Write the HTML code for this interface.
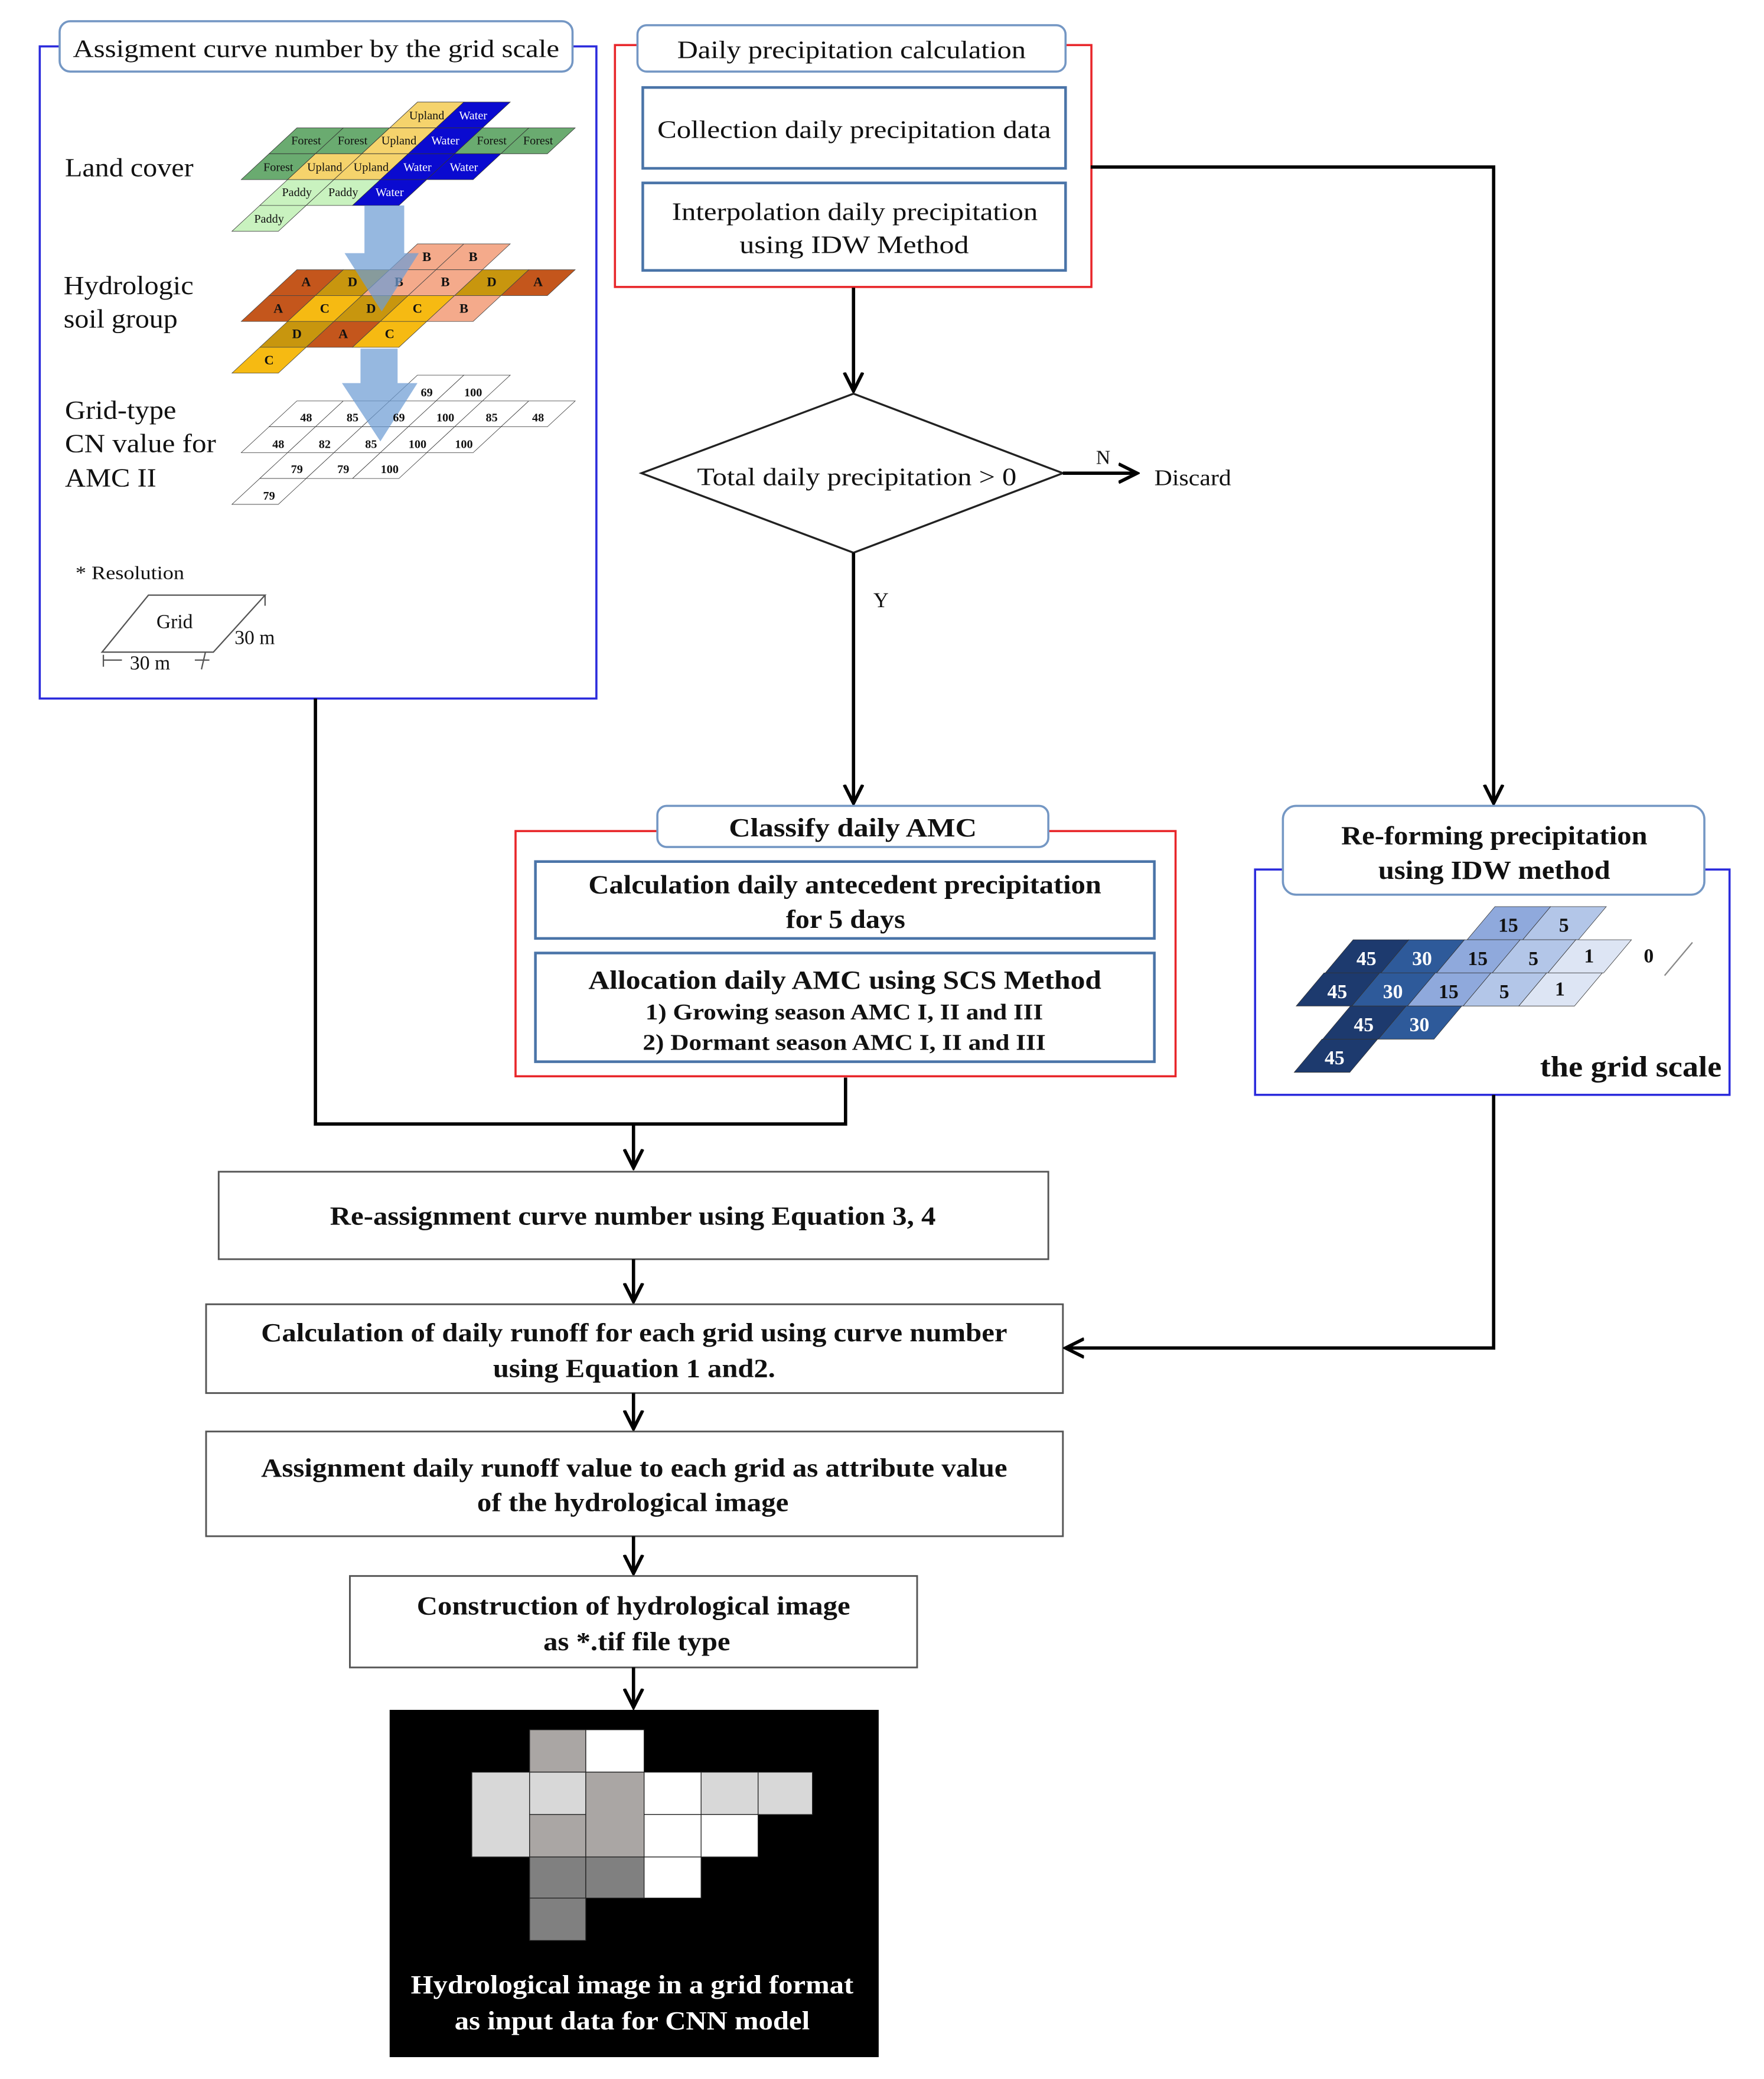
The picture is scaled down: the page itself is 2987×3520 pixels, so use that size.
<!DOCTYPE html>
<html><head><meta charset="utf-8"><style>
html,body{margin:0;padding:0;background:#fff;}
svg{display:block;}
text{font-family:"Liberation Serif",serif;fill:#111;}
.b{font-weight:bold;}
.c{text-anchor:middle;}
</style></head><body>
<svg width="2987" height="3520" viewBox="0 0 1331 1568.5" xmlns="http://www.w3.org/2000/svg">
<defs>
<marker id="ah" markerUnits="userSpaceOnUse" markerWidth="16" markerHeight="16" viewBox="0 0 16 16" refX="14" refY="8" orient="auto">
<path d="M0,1 L14,8 L0,15" fill="none" stroke="#000" stroke-width="2.5"/>
</marker>
</defs>
<rect width="1331" height="1568.5" fill="#fff"/>

<!-- ===== Left panel ===== -->
<rect x="30" y="35" width="420" height="492" fill="none" stroke="#2b2bdc" stroke-width="1.6"/>
<rect x="45" y="16" width="387" height="38" rx="8" fill="#fff" stroke="#7497c4" stroke-width="1.6"/>
<text x="55" y="43" font-size="19" textLength="367" lengthAdjust="spacingAndGlyphs">Assigment curve number by the grid scale</text>

<text x="49" y="133" font-size="20" textLength="97" lengthAdjust="spacingAndGlyphs">Land cover</text>
<text x="48" y="222" font-size="20" textLength="98" lengthAdjust="spacingAndGlyphs">Hydrologic</text>
<text x="48" y="247" font-size="20" textLength="86" lengthAdjust="spacingAndGlyphs">soil group</text>
<text x="49" y="316" font-size="20" textLength="84" lengthAdjust="spacingAndGlyphs">Grid-type</text>
<text x="49" y="341" font-size="20" textLength="114" lengthAdjust="spacingAndGlyphs">CN value for</text>
<text x="49" y="367" font-size="20" textLength="69" lengthAdjust="spacingAndGlyphs">AMC II</text>

<!-- land cover -->
<g transform="matrix(35,0,-21,19.5,245,77)" stroke="#333" stroke-width="0.8">
<g vector-effect="non-scaling-stroke">
<rect x="2" y="0" width="1" height="1" fill="#f5d36c" vector-effect="non-scaling-stroke"/>
<rect x="3" y="0" width="1" height="1" fill="#0a0ad0" vector-effect="non-scaling-stroke"/>
<rect x="0" y="1" width="1" height="1" fill="#6aab70" vector-effect="non-scaling-stroke"/>
<rect x="1" y="1" width="1" height="1" fill="#6aab70" vector-effect="non-scaling-stroke"/>
<rect x="2" y="1" width="1" height="1" fill="#f5d36c" vector-effect="non-scaling-stroke"/>
<rect x="3" y="1" width="1" height="1" fill="#0a0ad0" vector-effect="non-scaling-stroke"/>
<rect x="4" y="1" width="1" height="1" fill="#6aab70" vector-effect="non-scaling-stroke"/>
<rect x="5" y="1" width="1" height="1" fill="#6aab70" vector-effect="non-scaling-stroke"/>
<rect x="0" y="2" width="1" height="1" fill="#6aab70" vector-effect="non-scaling-stroke"/>
<rect x="1" y="2" width="1" height="1" fill="#f5d36c" vector-effect="non-scaling-stroke"/>
<rect x="2" y="2" width="1" height="1" fill="#f5d36c" vector-effect="non-scaling-stroke"/>
<rect x="3" y="2" width="1" height="1" fill="#0a0ad0" vector-effect="non-scaling-stroke"/>
<rect x="4" y="2" width="1" height="1" fill="#0a0ad0" vector-effect="non-scaling-stroke"/>
<rect x="1" y="3" width="1" height="1" fill="#c9f2bf" vector-effect="non-scaling-stroke"/>
<rect x="2" y="3" width="1" height="1" fill="#c9f2bf" vector-effect="non-scaling-stroke"/>
<rect x="3" y="3" width="1" height="1" fill="#0a0ad0" vector-effect="non-scaling-stroke"/>
<rect x="1" y="4" width="1" height="1" fill="#c9f2bf" vector-effect="non-scaling-stroke"/>
</g></g>
<g font-size="9" class="c">
<text x="322" y="90" text-anchor="middle">Upland</text><text x="357" y="90" text-anchor="middle" style="fill:#fff">Water</text>
<text x="231" y="109" text-anchor="middle">Forest</text><text x="266" y="109" text-anchor="middle">Forest</text><text x="301" y="109" text-anchor="middle">Upland</text><text x="336" y="109" text-anchor="middle" style="fill:#fff">Water</text><text x="371" y="109" text-anchor="middle">Forest</text><text x="406" y="109" text-anchor="middle">Forest</text>
<text x="210" y="129" text-anchor="middle">Forest</text><text x="245" y="129" text-anchor="middle">Upland</text><text x="280" y="129" text-anchor="middle">Upland</text><text x="315" y="129" text-anchor="middle" style="fill:#fff">Water</text><text x="350" y="129" text-anchor="middle" style="fill:#fff">Water</text>
<text x="224" y="148" text-anchor="middle">Paddy</text><text x="259" y="148" text-anchor="middle">Paddy</text><text x="294" y="148" text-anchor="middle" style="fill:#fff">Water</text>
<text x="203" y="168" text-anchor="middle">Paddy</text>
</g>

<!-- soil group -->
<g transform="matrix(35,0,-21,19.5,245,184)">
<rect x="2" y="0" width="1" height="1" fill="#f4aa8b" stroke="#444" stroke-width="0.8" vector-effect="non-scaling-stroke"/>
<rect x="3" y="0" width="1" height="1" fill="#f4aa8b" stroke="#444" stroke-width="0.8" vector-effect="non-scaling-stroke"/>
<rect x="0" y="1" width="1" height="1" fill="#c4561c" stroke="#444" stroke-width="0.8" vector-effect="non-scaling-stroke"/>
<rect x="1" y="1" width="1" height="1" fill="#c8960e" stroke="#444" stroke-width="0.8" vector-effect="non-scaling-stroke"/>
<rect x="2" y="1" width="1" height="1" fill="#f4aa8b" stroke="#444" stroke-width="0.8" vector-effect="non-scaling-stroke"/>
<rect x="3" y="1" width="1" height="1" fill="#f4aa8b" stroke="#444" stroke-width="0.8" vector-effect="non-scaling-stroke"/>
<rect x="4" y="1" width="1" height="1" fill="#c8960e" stroke="#444" stroke-width="0.8" vector-effect="non-scaling-stroke"/>
<rect x="5" y="1" width="1" height="1" fill="#c4561c" stroke="#444" stroke-width="0.8" vector-effect="non-scaling-stroke"/>
<rect x="0" y="2" width="1" height="1" fill="#c4561c" stroke="#444" stroke-width="0.8" vector-effect="non-scaling-stroke"/>
<rect x="1" y="2" width="1" height="1" fill="#f6ba12" stroke="#444" stroke-width="0.8" vector-effect="non-scaling-stroke"/>
<rect x="2" y="2" width="1" height="1" fill="#c8960e" stroke="#444" stroke-width="0.8" vector-effect="non-scaling-stroke"/>
<rect x="3" y="2" width="1" height="1" fill="#f6ba12" stroke="#444" stroke-width="0.8" vector-effect="non-scaling-stroke"/>
<rect x="4" y="2" width="1" height="1" fill="#f4aa8b" stroke="#444" stroke-width="0.8" vector-effect="non-scaling-stroke"/>
<rect x="1" y="3" width="1" height="1" fill="#c8960e" stroke="#444" stroke-width="0.8" vector-effect="non-scaling-stroke"/>
<rect x="2" y="3" width="1" height="1" fill="#c4561c" stroke="#444" stroke-width="0.8" vector-effect="non-scaling-stroke"/>
<rect x="3" y="3" width="1" height="1" fill="#f6ba12" stroke="#444" stroke-width="0.8" vector-effect="non-scaling-stroke"/>
<rect x="1" y="4" width="1" height="1" fill="#f6ba12" stroke="#444" stroke-width="0.8" vector-effect="non-scaling-stroke"/>
</g>
<g font-size="10" font-weight="bold" text-anchor="middle">
<text x="322" y="197">B</text><text x="357" y="197">B</text>
<text x="231" y="216">A</text><text x="266" y="216">D</text><text x="301" y="216">B</text><text x="336" y="216">B</text><text x="371" y="216">D</text><text x="406" y="216">A</text>
<text x="210" y="236">A</text><text x="245" y="236">C</text><text x="280" y="236">D</text><text x="315" y="236">C</text><text x="350" y="236">B</text>
<text x="224" y="255">D</text><text x="259" y="255">A</text><text x="294" y="255">C</text>
<text x="203" y="275">C</text>
</g>

<!-- CN grid -->
<g transform="matrix(35,0,-21,19.5,245,283)" fill="#fff" stroke="#333" stroke-width="0.8">
<rect x="2" y="0" width="1" height="1" vector-effect="non-scaling-stroke"/>
<rect x="3" y="0" width="1" height="1" vector-effect="non-scaling-stroke"/>
<rect x="0" y="1" width="1" height="1" vector-effect="non-scaling-stroke"/>
<rect x="1" y="1" width="1" height="1" vector-effect="non-scaling-stroke"/>
<rect x="2" y="1" width="1" height="1" vector-effect="non-scaling-stroke"/>
<rect x="3" y="1" width="1" height="1" vector-effect="non-scaling-stroke"/>
<rect x="4" y="1" width="1" height="1" vector-effect="non-scaling-stroke"/>
<rect x="5" y="1" width="1" height="1" vector-effect="non-scaling-stroke"/>
<rect x="0" y="2" width="1" height="1" vector-effect="non-scaling-stroke"/>
<rect x="1" y="2" width="1" height="1" vector-effect="non-scaling-stroke"/>
<rect x="2" y="2" width="1" height="1" vector-effect="non-scaling-stroke"/>
<rect x="3" y="2" width="1" height="1" vector-effect="non-scaling-stroke"/>
<rect x="4" y="2" width="1" height="1" vector-effect="non-scaling-stroke"/>
<rect x="1" y="3" width="1" height="1" vector-effect="non-scaling-stroke"/>
<rect x="2" y="3" width="1" height="1" vector-effect="non-scaling-stroke"/>
<rect x="3" y="3" width="1" height="1" vector-effect="non-scaling-stroke"/>
<rect x="1" y="4" width="1" height="1" vector-effect="non-scaling-stroke"/>
</g>

<!-- translucent arrows -->
<g fill="#6d9cd4" fill-opacity="0.72">
<polygon points="275,155 305,155 305,191 316,191 288,235 260,191 275,191"/>
<polygon points="272,263 300,263 300,289 315,289 287,333 258,289 272,289"/>
</g>
<g font-size="9" font-weight="bold" text-anchor="middle">
<text x="322" y="299">69</text><text x="357" y="299">100</text>
<text x="231" y="318">48</text><text x="266" y="318">85</text><text x="301" y="318">69</text><text x="336" y="318">100</text><text x="371" y="318">85</text><text x="406" y="318">48</text>
<text x="210" y="338">48</text><text x="245" y="338">82</text><text x="280" y="338">85</text><text x="315" y="338">100</text><text x="350" y="338">100</text>
<text x="224" y="357">79</text><text x="259" y="357">79</text><text x="294" y="357">100</text>
<text x="203" y="377">79</text>
</g>

<!-- resolution -->
<text x="57" y="437" font-size="14" textLength="82" lengthAdjust="spacingAndGlyphs">* Resolution</text>
<path d="M77,492 L112,449 L200,449 L161,492 Z" fill="none" stroke="#555" stroke-width="1"/>
<line x1="200" y1="449" x2="200" y2="457" stroke="#555" stroke-width="1"/>
<text x="118" y="474" font-size="15">Grid</text>
<text x="177" y="486" font-size="15">30 m</text>
<line x1="78" y1="494" x2="78" y2="503" stroke="#555"/><line x1="78" y1="498" x2="92" y2="498" stroke="#555"/>
<line x1="147" y1="498" x2="158" y2="498" stroke="#555"/><line x1="155" y1="492" x2="152" y2="505" stroke="#555"/>
<text x="98" y="505" font-size="15">30 m</text>

<!-- ===== Top red panel ===== -->
<rect x="464" y="34" width="359.5" height="182.5" fill="none" stroke="#e8262a" stroke-width="1.6"/>
<rect x="481" y="19" width="323" height="35" rx="7" fill="#fff" stroke="#7497c4" stroke-width="1.6"/>
<text x="511" y="44" font-size="19" textLength="263" lengthAdjust="spacingAndGlyphs">Daily precipitation calculation</text>
<rect x="485" y="66" width="319" height="61" fill="#fff" stroke="#4a74a8" stroke-width="2"/>
<text x="496" y="104" font-size="19" textLength="297" lengthAdjust="spacingAndGlyphs">Collection daily precipitation data</text>
<rect x="485" y="138" width="319" height="66" fill="#fff" stroke="#4a74a8" stroke-width="2"/>
<text x="507" y="166" font-size="19" textLength="276" lengthAdjust="spacingAndGlyphs">Interpolation daily precipitation</text>
<text x="558" y="191" font-size="19" textLength="173" lengthAdjust="spacingAndGlyphs">using  IDW Method</text>

<!-- connectors top -->
<line x1="644" y1="217" x2="644" y2="295" stroke="#000" stroke-width="2.5" marker-end="url(#ah)"/>
<polygon points="644,297 802,357 644,417 484,357" fill="#fff" stroke="#222" stroke-width="1.5"/>
<text x="526" y="366" font-size="19" textLength="241" lengthAdjust="spacingAndGlyphs">Total daily precipitation &gt; 0</text>
<line x1="802" y1="357" x2="858" y2="357" stroke="#000" stroke-width="2.5" marker-end="url(#ah)"/>
<text x="827" y="350" font-size="15">N</text>
<text x="871" y="366" font-size="17" textLength="58" lengthAdjust="spacingAndGlyphs">Discard</text>
<line x1="644" y1="417" x2="644" y2="606" stroke="#000" stroke-width="2.5" marker-end="url(#ah)"/>
<text x="659" y="458" font-size="16">Y</text>
<polyline points="823,126 1127,126 1127,606" fill="none" stroke="#000" stroke-width="2.5" marker-end="url(#ah)"/>

<!-- ===== AMC red panel ===== -->
<rect x="389" y="627" width="498" height="185" fill="none" stroke="#e8262a" stroke-width="1.6"/>
<rect x="496" y="608" width="295" height="31" rx="7" fill="#fff" stroke="#7497c4" stroke-width="1.6"/>
<text x="550" y="631" font-size="20" font-weight="bold" textLength="187" lengthAdjust="spacingAndGlyphs">Classify  daily AMC</text>
<rect x="404" y="650" width="467" height="58" fill="#fff" stroke="#4a74a8" stroke-width="2"/>
<text x="444" y="674" font-size="20" font-weight="bold" textLength="387" lengthAdjust="spacingAndGlyphs">Calculation daily antecedent precipitation</text>
<text x="593" y="700" font-size="20" font-weight="bold" textLength="90" lengthAdjust="spacingAndGlyphs">for 5 days</text>
<rect x="404" y="719" width="467" height="82" fill="#fff" stroke="#4a74a8" stroke-width="2"/>
<text x="444" y="746" font-size="20" font-weight="bold" textLength="387" lengthAdjust="spacingAndGlyphs">Allocation daily AMC  using SCS Method</text>
<text x="487" y="769" font-size="17" font-weight="bold" textLength="300" lengthAdjust="spacingAndGlyphs">1)  Growing season AMC I, II and III</text>
<text x="485" y="792" font-size="17" font-weight="bold" textLength="304" lengthAdjust="spacingAndGlyphs">2)  Dormant season AMC I, II and III</text>

<!-- ===== Right blue panel ===== -->
<rect x="947" y="656" width="358" height="170" fill="none" stroke="#2b2bdc" stroke-width="1.6"/>
<rect x="968" y="608" width="318" height="67" rx="10" fill="#fff" stroke="#7497c4" stroke-width="1.6"/>
<text x="1012" y="637" font-size="20" font-weight="bold" textLength="231" lengthAdjust="spacingAndGlyphs">Re-forming precipitation</text>
<text x="1040" y="663" font-size="20" font-weight="bold" textLength="175" lengthAdjust="spacingAndGlyphs">using IDW method</text>
<g stroke="#333" stroke-width="0.8">
<g transform="matrix(42,0,-21,25,1128,684)">
<rect x="0" y="0" width="1" height="1" fill="#8fa9dc" vector-effect="non-scaling-stroke"/>
<rect x="1" y="0" width="1" height="1" fill="#b3c6e8" vector-effect="non-scaling-stroke"/>
</g>
<g transform="matrix(42,0,-21,25,1021,709)">
<rect x="0" y="0" width="1" height="1" fill="#1d3a6e" vector-effect="non-scaling-stroke"/>
<rect x="1" y="0" width="1" height="1" fill="#2e5a9a" vector-effect="non-scaling-stroke"/>
<rect x="2" y="0" width="1" height="1" fill="#8fa9dc" vector-effect="non-scaling-stroke"/>
<rect x="3" y="0" width="1" height="1" fill="#b3c6e8" vector-effect="non-scaling-stroke"/>
<rect x="4" y="0" width="1" height="1" fill="#dde5f4" vector-effect="non-scaling-stroke"/>
</g>
<g transform="matrix(42,0,-21,25,999,734)">
<rect x="0" y="0" width="1" height="1" fill="#1d3a6e" vector-effect="non-scaling-stroke"/>
<rect x="1" y="0" width="1" height="1" fill="#2e5a9a" vector-effect="non-scaling-stroke"/>
<rect x="2" y="0" width="1" height="1" fill="#8fa9dc" vector-effect="non-scaling-stroke"/>
<rect x="3" y="0" width="1" height="1" fill="#b3c6e8" vector-effect="non-scaling-stroke"/>
<rect x="4" y="0" width="1" height="1" fill="#dde5f4" vector-effect="non-scaling-stroke"/>
</g>
<g transform="matrix(42,0,-21,25,1019,759)">
<rect x="0" y="0" width="1" height="1" fill="#1d3a6e" vector-effect="non-scaling-stroke"/>
<rect x="1" y="0" width="1" height="1" fill="#2e5a9a" vector-effect="non-scaling-stroke"/>
</g>
<g transform="matrix(42,0,-21,25,997.5,784)">
<rect x="0" y="0" width="1" height="1" fill="#1d3a6e" vector-effect="non-scaling-stroke"/>
</g>
</g>
<g font-size="15" font-weight="bold" text-anchor="middle">
<text x="1138" y="703">15</text><text x="1180" y="703">5</text>
<text x="1031" y="728" style="fill:#fff">45</text><text x="1073" y="728" style="fill:#fff">30</text><text x="1115" y="728">15</text><text x="1157" y="728">5</text><text x="1199" y="726">1</text>
<text x="1009" y="753" style="fill:#fff">45</text><text x="1051" y="753" style="fill:#fff">30</text><text x="1093" y="753">15</text><text x="1135" y="753">5</text><text x="1177" y="751">1</text>
<text x="1029" y="778" style="fill:#fff">45</text><text x="1071" y="778" style="fill:#fff">30</text>
<text x="1007" y="803" style="fill:#fff">45</text>
<text x="1244" y="726">0</text>
</g>
<line x1="1256" y1="736" x2="1277" y2="711" stroke="#888" stroke-width="1"/>
<text x="1162" y="812" font-size="22" font-weight="bold" textLength="137" lengthAdjust="spacingAndGlyphs">the grid scale</text>

<!-- ===== lower flow ===== -->
<polyline points="238,527 238,848 638,848 638,813" fill="none" stroke="#000" stroke-width="2.5"/>
<line x1="478" y1="848" x2="478" y2="881" stroke="#000" stroke-width="2.5" marker-end="url(#ah)"/>
<rect x="165" y="884" width="626" height="66" fill="#fff" stroke="#555" stroke-width="1.3"/>
<text x="249" y="924" font-size="20" font-weight="bold" textLength="457" lengthAdjust="spacingAndGlyphs">Re-assignment curve number using Equation 3, 4</text>
<line x1="478" y1="950" x2="478" y2="982" stroke="#000" stroke-width="2.5" marker-end="url(#ah)"/>
<rect x="155.5" y="984" width="646.5" height="67" fill="#fff" stroke="#555" stroke-width="1.3"/>
<text x="197" y="1012" font-size="20" font-weight="bold" textLength="563" lengthAdjust="spacingAndGlyphs">Calculation of daily runoff for each grid using curve number</text>
<text x="372" y="1039" font-size="20" font-weight="bold" textLength="213" lengthAdjust="spacingAndGlyphs">using Equation 1 and2.</text>
<polyline points="1127,826 1127,1017 804,1017" fill="none" stroke="#000" stroke-width="2.5" marker-end="url(#ah)"/>
<line x1="478" y1="1051" x2="478" y2="1078" stroke="#000" stroke-width="2.5" marker-end="url(#ah)"/>
<rect x="155.5" y="1080" width="646.5" height="79" fill="#fff" stroke="#555" stroke-width="1.3"/>
<text x="197" y="1114" font-size="20" font-weight="bold" textLength="563" lengthAdjust="spacingAndGlyphs">Assignment daily runoff value to each grid as attribute value</text>
<text x="360" y="1140" font-size="20" font-weight="bold" textLength="235" lengthAdjust="spacingAndGlyphs">of the hydrological image</text>
<line x1="478" y1="1159" x2="478" y2="1187" stroke="#000" stroke-width="2.5" marker-end="url(#ah)"/>
<rect x="264" y="1189" width="428" height="69" fill="#fff" stroke="#555" stroke-width="1.3"/>
<text x="314.5" y="1218" font-size="20" font-weight="bold" textLength="327" lengthAdjust="spacingAndGlyphs">Construction of hydrological image</text>
<text x="410" y="1245" font-size="20" font-weight="bold" textLength="141" lengthAdjust="spacingAndGlyphs">as *.tif file type</text>
<line x1="478" y1="1258" x2="478" y2="1288" stroke="#000" stroke-width="2.5" marker-end="url(#ah)"/>

<!-- black image box -->
<rect x="294" y="1290" width="369" height="262" fill="#000"/>
<g stroke="#222" stroke-width="0.6">
<rect x="399.6" y="1305" width="42.4" height="32" fill="#aaa6a4"/>
<rect x="442" y="1305" width="44" height="32" fill="#fff"/>
<rect x="356" y="1337" width="43.6" height="64" fill="#d8d8d8"/>
<rect x="399.6" y="1337" width="42.4" height="32" fill="#d8d8d8"/>
<rect x="399.6" y="1369" width="42.4" height="32" fill="#aaa6a4"/>
<rect x="442" y="1337" width="44" height="64" fill="#aaa6a4"/>
<rect x="486" y="1337" width="43" height="32" fill="#fff"/>
<rect x="486" y="1369" width="43" height="32" fill="#fff"/>
<rect x="529" y="1337" width="43" height="32" fill="#d8d8d8"/>
<rect x="529" y="1369" width="43" height="32" fill="#fff"/>
<rect x="572" y="1337" width="41" height="32" fill="#d8d8d8"/>
<rect x="399.6" y="1401" width="42.4" height="31" fill="#808080"/>
<rect x="442" y="1401" width="44" height="31" fill="#808080"/>
<rect x="486" y="1401" width="43" height="31" fill="#fff"/>
<rect x="399.6" y="1432" width="42.4" height="32" fill="#808080"/>
</g>
<text x="310" y="1504" font-size="20" font-weight="bold" textLength="334" lengthAdjust="spacingAndGlyphs" style="fill:#fff">Hydrological image in a grid format</text>
<text x="343" y="1531" font-size="20" font-weight="bold" textLength="268" lengthAdjust="spacingAndGlyphs" style="fill:#fff">as input data for CNN model</text>
</svg>
</body></html>
